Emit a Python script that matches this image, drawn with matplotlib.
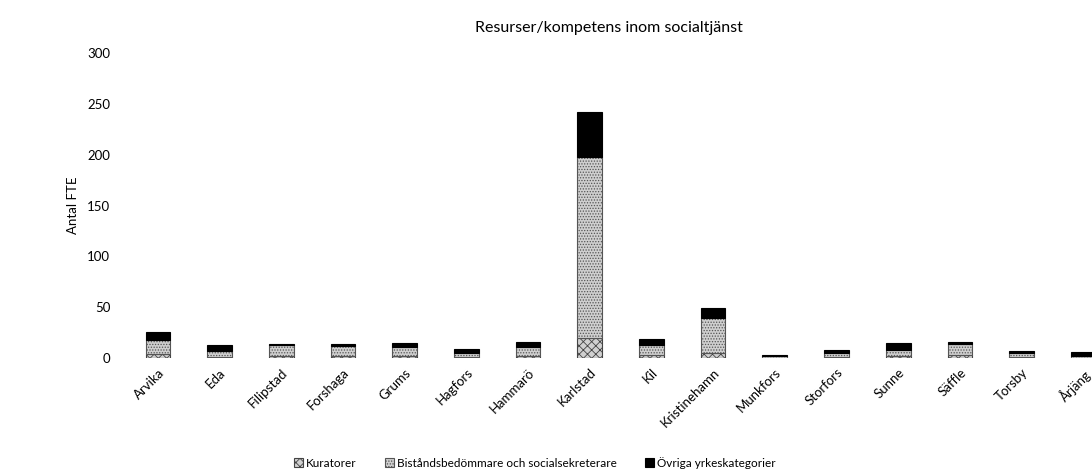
import numpy as np
import matplotlib
matplotlib.use("Agg")
import matplotlib.pyplot as plt

plt.rcParams['font.family'] = ['Lato', 'DejaVu Sans']
plt.rcParams['hatch.linewidth'] = 0.6

# --------------------------------------------------
# Data
# --------------------------------------------------
kommuner = ["Arvika", "Eda", "Filipstad", "Forshaga", "Grums", "Hagfors",
            "Hammarö", "Karlstad", "Kil", "Kristinehamn", "Munkfors",
            "Storfors", "Sunne", "Säffle", "Torsby", "Årjäng"]
kuratorer = [4, 1, 2, 2, 2, 1, 2, 20, 3, 5, 0.5, 1, 1.5, 3, 1, 0.5]
bistand = [14, 6, 10.5, 10, 8.5, 4, 9, 178, 10, 34, 1, 4, 6, 11, 3.7, 1]
ovriga = [8, 6, 1.5, 2, 4, 4, 5, 44, 5.5, 10, 1, 3, 7, 2, 2.3, 4]

series_names = ["Kuratorer", "Biståndsbedömmare och socialsekreterare",
                "Övriga yrkeskategorier"]
yticks = [0, 50, 100, 150, 200, 250, 300]

# --------------------------------------------------
# Figure
# --------------------------------------------------
fig = plt.figure(figsize=(10.92, 4.72), dpi=100)
ax = fig.add_axes([0.1163, 0.2415, 0.904, 0.6462])

x = np.arange(len(kommuner))
w = 0.4
k = np.array(kuratorer)
b = np.array(bistand)
o = np.array(ovriga)

ax.bar(x, k, w, color="#d0d0d0", edgecolor="#444444", hatch="xxxx",
       linewidth=0.8, label=series_names[0])
ax.bar(x, b, w, bottom=k, color="#cfcfcf", edgecolor="#555555", hatch="......",
       linewidth=0.8, label=series_names[1])
ax.bar(x, o, w, bottom=k + b, color="black", edgecolor="black",
       linewidth=0.8, label=series_names[2])

ax.set_xlim(-0.5, len(kommuner) - 0.5)
ax.set_ylim(0, 300)
ax.set_yticks(yticks)
ax.set_xticks(x)
ax.set_xticklabels(kommuner, rotation=45, ha="right", va="top",
                   rotation_mode="anchor", fontsize=9.5)
ax.tick_params(axis="both", length=0, labelsize=9.5)
ax.tick_params(axis="y", pad=12)
ax.tick_params(axis="x", pad=6)
for s in ax.spines.values():
    s.set_visible(False)

ax.set_ylabel("Antal FTE", fontsize=9.5, labelpad=6)
fig.text(0.558, 0.94, "Resurser/kompetens inom socialtjänst",
         ha="center", va="center", fontsize=11.5)

fig.legend(loc="center", bbox_to_anchor=(0.49, 0.02), ncol=3, frameon=False,
           fontsize=8.5, handlelength=0.7, handleheight=0.7, handletextpad=0.3,
           columnspacing=2.4)

fig.savefig("out.png", dpi=100)
